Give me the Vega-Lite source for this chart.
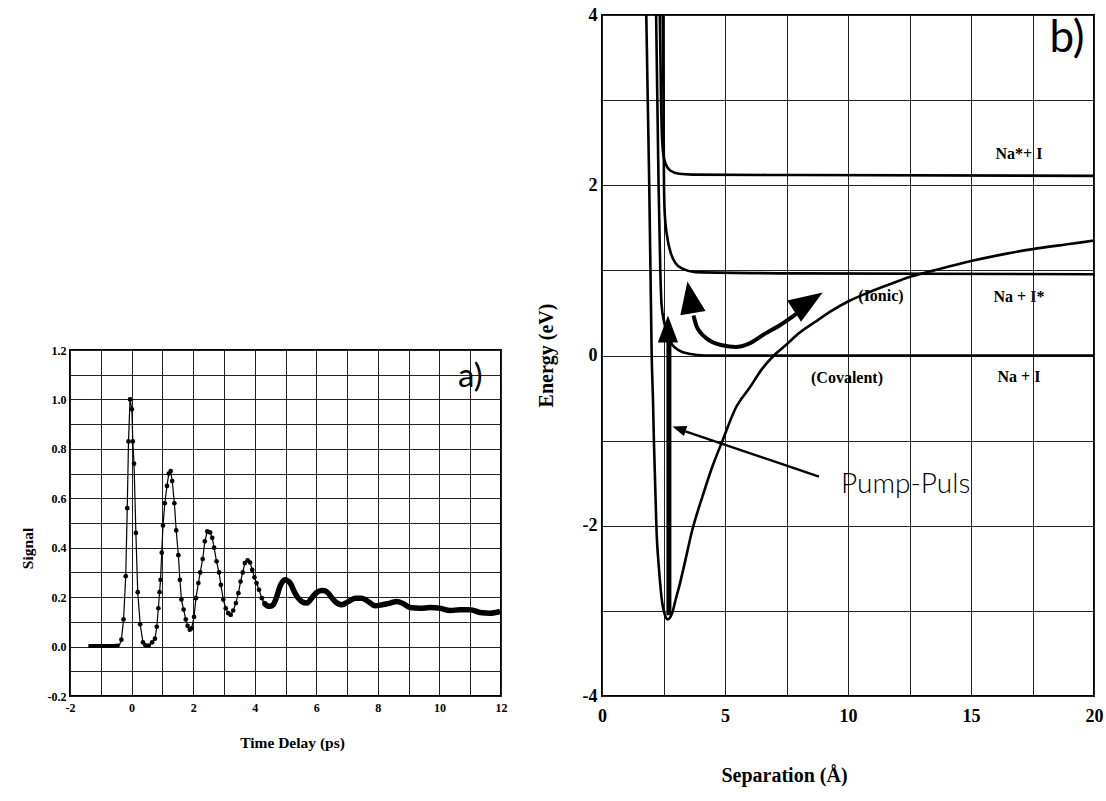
{
  "$schema": "https://vega.github.io/schema/vega-lite/v6.json",
  "background": "white",
  "padding": {"left": 19, "top": 5, "right": 3, "bottom": 5},
  "autosize": {"type": "pad"},
  "config": {
    "view": {"stroke": "black", "strokeWidth": 2},
    "axis": {
      "grid": true, "gridColor": "#222222", "gridWidth": 1, "gridOpacity": 1,
      "domain": false, "ticks": false, "labelFlush": false, "labelOverlap": false,
      "labelFont": "Liberation Serif", "labelFontWeight": "bold", "labelColor": "black",
      "titleFont": "Liberation Serif", "titleFontWeight": "bold", "titleColor": "black",
      "titleBaseline": "middle", "titleAlign": "center"
    },
    "line": {"color": "black"},
    "point": {"color": "black"},
    "rule": {"color": "black"},
    "text": {"color": "black"}
  },
  "datasets": {
    "signal": [
      {"t": -1.4, "s": 0.002}, {"t": -1.3, "s": 0.002}, {"t": -1.2, "s": 0.002}, {"t": -1.1, "s": 0.002},
      {"t": -1.0, "s": 0.002}, {"t": -0.9, "s": 0.002}, {"t": -0.8, "s": 0.002}, {"t": -0.7, "s": 0.002},
      {"t": -0.6, "s": 0.002}, {"t": -0.5, "s": 0.003}, {"t": -0.4, "s": 0.004},
      {"t": -0.33, "s": 0.028}, {"t": -0.26, "s": 0.11}, {"t": -0.19, "s": 0.285}, {"t": -0.14, "s": 0.56},
      {"t": -0.1, "s": 0.83}, {"t": -0.05, "s": 1.0}, {"t": 0.01, "s": 0.96}, {"t": 0.04, "s": 0.83},
      {"t": 0.08, "s": 0.74}, {"t": 0.14, "s": 0.46}, {"t": 0.2, "s": 0.22}, {"t": 0.28, "s": 0.09},
      {"t": 0.37, "s": 0.017}, {"t": 0.45, "s": 0.005}, {"t": 0.56, "s": 0.004}, {"t": 0.67, "s": 0.017},
      {"t": 0.76, "s": 0.032}, {"t": 0.82, "s": 0.08}, {"t": 0.87, "s": 0.155}, {"t": 0.91, "s": 0.22},
      {"t": 0.94, "s": 0.27}, {"t": 0.98, "s": 0.38}, {"t": 1.02, "s": 0.49}, {"t": 1.08, "s": 0.58},
      {"t": 1.15, "s": 0.65}, {"t": 1.21, "s": 0.7}, {"t": 1.27, "s": 0.71}, {"t": 1.32, "s": 0.67},
      {"t": 1.39, "s": 0.58}, {"t": 1.45, "s": 0.47}, {"t": 1.52, "s": 0.37}, {"t": 1.57, "s": 0.27},
      {"t": 1.62, "s": 0.19}, {"t": 1.69, "s": 0.15}, {"t": 1.76, "s": 0.11}, {"t": 1.82, "s": 0.084},
      {"t": 1.89, "s": 0.068}, {"t": 1.95, "s": 0.074}, {"t": 2.03, "s": 0.12}, {"t": 2.09, "s": 0.196},
      {"t": 2.17, "s": 0.257}, {"t": 2.23, "s": 0.3}, {"t": 2.31, "s": 0.354}, {"t": 2.38, "s": 0.426},
      {"t": 2.46, "s": 0.466}, {"t": 2.55, "s": 0.462}, {"t": 2.62, "s": 0.44}, {"t": 2.68, "s": 0.4},
      {"t": 2.76, "s": 0.345}, {"t": 2.84, "s": 0.3}, {"t": 2.9, "s": 0.25}, {"t": 2.98, "s": 0.19},
      {"t": 3.06, "s": 0.155}, {"t": 3.14, "s": 0.135}, {"t": 3.22, "s": 0.128}, {"t": 3.3, "s": 0.146},
      {"t": 3.39, "s": 0.176}, {"t": 3.47, "s": 0.216}, {"t": 3.54, "s": 0.263}, {"t": 3.61, "s": 0.3},
      {"t": 3.68, "s": 0.338}, {"t": 3.77, "s": 0.349}, {"t": 3.85, "s": 0.34}, {"t": 3.92, "s": 0.31},
      {"t": 3.99, "s": 0.28}, {"t": 4.06, "s": 0.257}, {"t": 4.14, "s": 0.23}, {"t": 4.23, "s": 0.196},
      {"t": 4.31, "s": 0.176}, {"t": 4.41, "s": 0.165}, {"t": 4.5, "s": 0.163}, {"t": 4.6, "s": 0.169},
      {"t": 4.71, "s": 0.2}, {"t": 4.82, "s": 0.243}, {"t": 4.9, "s": 0.262}, {"t": 4.98, "s": 0.27},
      {"t": 5.07, "s": 0.266}, {"t": 5.15, "s": 0.257}, {"t": 5.31, "s": 0.216}, {"t": 5.42, "s": 0.195},
      {"t": 5.53, "s": 0.182}, {"t": 5.69, "s": 0.176}, {"t": 5.85, "s": 0.196}, {"t": 6.01, "s": 0.219},
      {"t": 6.18, "s": 0.227}, {"t": 6.28, "s": 0.226}, {"t": 6.39, "s": 0.216}, {"t": 6.5, "s": 0.198},
      {"t": 6.61, "s": 0.182}, {"t": 6.83, "s": 0.169}, {"t": 7.04, "s": 0.182}, {"t": 7.26, "s": 0.196},
      {"t": 7.48, "s": 0.196}, {"t": 7.69, "s": 0.182}, {"t": 7.91, "s": 0.165}, {"t": 8.13, "s": 0.169},
      {"t": 8.4, "s": 0.176}, {"t": 8.61, "s": 0.182}, {"t": 8.83, "s": 0.173}, {"t": 9.05, "s": 0.158},
      {"t": 9.37, "s": 0.155}, {"t": 9.7, "s": 0.158}, {"t": 10.02, "s": 0.155}, {"t": 10.35, "s": 0.146},
      {"t": 10.67, "s": 0.149}, {"t": 11.0, "s": 0.149}, {"t": 11.32, "s": 0.138}, {"t": 11.65, "s": 0.135},
      {"t": 11.97, "s": 0.142}
    ],
    "ionic": [
      {"R": 1.8, "E": 4.0}, {"R": 1.86, "E": 3.0}, {"R": 1.92, "E": 2.0}, {"R": 1.97, "E": 1.0},
      {"R": 2.02, "E": 0.0}, {"R": 2.07, "E": -0.5}, {"R": 2.11, "E": -1.0}, {"R": 2.16, "E": -1.5},
      {"R": 2.21, "E": -2.0}, {"R": 2.32, "E": -2.52}, {"R": 2.45, "E": -2.91}, {"R": 2.56, "E": -3.05},
      {"R": 2.66, "E": -3.1}, {"R": 2.76, "E": -3.08}, {"R": 2.86, "E": -3.02}, {"R": 3.0, "E": -2.86},
      {"R": 3.15, "E": -2.7}, {"R": 3.33, "E": -2.48}, {"R": 3.67, "E": -2.05}, {"R": 4.08, "E": -1.66},
      {"R": 4.48, "E": -1.31}, {"R": 4.9, "E": -1.0}, {"R": 5.43, "E": -0.62}, {"R": 6.0, "E": -0.38},
      {"R": 6.5, "E": -0.16}, {"R": 7.06, "E": 0.02}, {"R": 7.5, "E": 0.13}, {"R": 8.0, "E": 0.26},
      {"R": 8.69, "E": 0.4}, {"R": 9.36, "E": 0.53}, {"R": 10.04, "E": 0.64}, {"R": 11.0, "E": 0.76},
      {"R": 12.0, "E": 0.87}, {"R": 12.6, "E": 0.93}, {"R": 13.5, "E": 1.0}, {"R": 15.0, "E": 1.11},
      {"R": 16.5, "E": 1.2}, {"R": 17.5, "E": 1.25}, {"R": 19.0, "E": 1.31}, {"R": 20.0, "E": 1.35}
    ],
    "covalent": [
      {"state": "Na*+I", "R": 2.35, "E": 4.0}, {"state": "Na*+I", "R": 2.4, "E": 3.0},
      {"state": "Na*+I", "R": 2.45, "E": 2.5}, {"state": "Na*+I", "R": 2.5, "E": 2.35},
      {"state": "Na*+I", "R": 2.59, "E": 2.25}, {"state": "Na*+I", "R": 2.79, "E": 2.17},
      {"state": "Na*+I", "R": 3.13, "E": 2.135}, {"state": "Na*+I", "R": 3.67, "E": 2.125},
      {"state": "Na*+I", "R": 8.0, "E": 2.12}, {"state": "Na*+I", "R": 20.0, "E": 2.11},
      {"state": "Na+I*", "R": 2.47, "E": 4.0}, {"state": "Na+I*", "R": 2.5, "E": 3.0},
      {"state": "Na+I*", "R": 2.52, "E": 2.0}, {"state": "Na+I*", "R": 2.55, "E": 1.67},
      {"state": "Na+I*", "R": 2.67, "E": 1.36}, {"state": "Na+I*", "R": 2.8, "E": 1.2},
      {"state": "Na+I*", "R": 3.0, "E": 1.08}, {"state": "Na+I*", "R": 3.27, "E": 1.02},
      {"state": "Na+I*", "R": 3.8, "E": 0.98}, {"state": "Na+I*", "R": 8.0, "E": 0.965},
      {"state": "Na+I*", "R": 20.0, "E": 0.955},
      {"state": "Na+I", "R": 2.2, "E": 4.0}, {"state": "Na+I", "R": 2.25, "E": 3.0},
      {"state": "Na+I", "R": 2.3, "E": 2.0}, {"state": "Na+I", "R": 2.37, "E": 1.0},
      {"state": "Na+I", "R": 2.42, "E": 0.6}, {"state": "Na+I", "R": 2.52, "E": 0.4},
      {"state": "Na+I", "R": 2.65, "E": 0.25}, {"state": "Na+I", "R": 2.85, "E": 0.13},
      {"state": "Na+I", "R": 3.13, "E": 0.06}, {"state": "Na+I", "R": 3.54, "E": 0.02},
      {"state": "Na+I", "R": 4.2, "E": 0.0}, {"state": "Na+I", "R": 20.0, "E": 0.0}
    ],
    "wavepacket": [
      {"R": 3.72, "E": 0.47}, {"R": 3.85, "E": 0.34}, {"R": 4.0, "E": 0.27}, {"R": 4.21, "E": 0.21},
      {"R": 4.5, "E": 0.155}, {"R": 4.89, "E": 0.12}, {"R": 5.43, "E": 0.1}, {"R": 5.98, "E": 0.14},
      {"R": 6.65, "E": 0.26}, {"R": 7.2, "E": 0.35}, {"R": 7.9, "E": 0.49}
    ],
    "labels": [
      {"R": 16.95, "E": 2.37, "txt": "Na*+ I"},
      {"R": 16.95, "E": 0.69, "txt": "Na + I*"},
      {"R": 16.95, "E": -0.25, "txt": "Na + I"},
      {"R": 11.34, "E": 0.7, "txt": "(Ionic)"},
      {"R": 9.96, "E": -0.26, "txt": "(Covalent)"}
    ]
  },
  "hconcat": [
    {
      "spacing": 10,
      "vconcat": [
        {
          "width": 431, "height": 318,
          "view": {"stroke": null},
          "data": {"values": [{"t": 0}]},
          "mark": {"type": "text", "text": " "}
        },
        {
          "width": 431, "height": 346,
          "encoding": {
            "x": {
              "field": "t", "type": "quantitative",
              "scale": {"domain": [-2, 12], "nice": false},
              "axis": {
                "title": "Time Delay (ps)", "titleFontSize": 15.5, "titleX": 222, "titleY": 46,
                "values": [-2, -1, 0, 1, 2, 3, 4, 5, 6, 7, 8, 9, 10, 11, 12],
                "labelExpr": "datum.value % 2 == 0 ? replace(format(datum.value, 'd'), '\u2212', '-') : ''",
                "labelFontSize": 12, "labelPadding": 6
              }
            },
            "y": {
              "field": "s", "type": "quantitative",
              "scale": {"domain": [-0.2, 1.2], "nice": false},
              "axis": {
                "title": "Signal", "titleFontSize": 15.5, "titleX": -43, "titleY": 198,
                "values": [-0.2, -0.1, 0, 0.1, 0.2, 0.3, 0.4, 0.5, 0.6, 0.7, 0.8, 0.9, 1.0, 1.1, 1.2],
                "labelExpr": "abs(round(datum.value * 10)) % 2 == 0 ? replace(format(datum.value, '.1f'), '\u2212', '-') : ''",
                "labelFontSize": 12, "labelPadding": 4
              }
            }
          },
          "layer": [
            {"data": {"name": "signal"}, "mark": {"type": "line", "strokeWidth": 1.2}},
            {"data": {"name": "signal"}, "transform": [{"filter": "datum.t <= -0.38"}], "mark": {"type": "line", "strokeWidth": 4}},
            {"data": {"name": "signal"}, "transform": [{"filter": "datum.t >= 4.3"}], "mark": {"type": "line", "strokeWidth": 5.5, "interpolate": "monotone"}},
            {"data": {"name": "signal"}, "transform": [{"filter": "datum.t > -0.4 && datum.t < 4.45"}], "mark": {"type": "point", "filled": true, "size": 22, "opacity": 1}},
            {
              "data": {"values": [{"t": 11.0, "s": 1.09}]},
              "mark": {"type": "text", "text": "a)", "font": "Lato", "fontWeight": 400, "fontSize": 33}
            }
          ]
        }
      ]
    },
    {
      "width": 492, "height": 681,
      "encoding": {
        "x": {
          "field": "R", "type": "quantitative",
          "scale": {"domain": [0, 20], "nice": false},
          "axis": {
            "title": "Separation  (Å)", "titleFontSize": 20, "titleX": 182, "titleY": 79,
            "values": [0, 2.5, 5, 7.5, 10, 12.5, 15, 17.5, 20],
            "labelExpr": "datum.value % 5 == 0 ? format(datum.value, 'd') : ''",
            "labelFontSize": 18, "labelPadding": 11
          }
        },
        "y": {
          "field": "E", "type": "quantitative",
          "scale": {"domain": [-4, 4], "nice": false},
          "axis": {
            "title": "Energy  (eV)", "titleFontSize": 20, "titleX": -56, "titleY": 340,
            "values": [-4, -3, -2, -1, 0, 1, 2, 3, 4],
            "labelExpr": "datum.value % 2 == 0 ? replace(format(datum.value, 'd'), '\u2212', '-') : ''",
            "labelFontSize": 18, "labelPadding": 5
          }
        }
      },
      "layer": [
        {"data": {"name": "ionic"}, "mark": {"type": "line", "strokeWidth": 2.6, "interpolate": "monotone"}},
        {
          "data": {"name": "covalent"},
          "mark": {"type": "line", "strokeWidth": 2.6, "interpolate": "monotone"},
          "encoding": {"detail": {"field": "state"}}
        },
        {"data": {"name": "wavepacket"}, "mark": {"type": "line", "strokeWidth": 4, "interpolate": "monotone"}},
        {
          "data": {"values": [{"R": 2.72, "E": -3.05, "E2": 0.18}]},
          "mark": {"type": "rule", "strokeWidth": 5},
          "encoding": {"y2": {"field": "E2"}}
        },
        {
          "data": {"values": [{"R": 2.68, "E": 0.31}]},
          "mark": {"type": "point", "shape": "M0,-1L0.75,1L-0.75,1Z", "filled": true, "opacity": 1, "size": 729, "angle": 0}
        },
        {
          "data": {"values": [{"R": 3.585, "E": 0.683}]},
          "mark": {"type": "point", "shape": "M0,-1L0.8,1L-0.8,1Z", "filled": true, "opacity": 1, "size": 1024, "angle": -10}
        },
        {
          "data": {"values": [{"R": 8.39, "E": 0.63}]},
          "mark": {"type": "point", "shape": "M0,-1L0.75,1L-0.75,1Z", "filled": true, "opacity": 1, "size": 1156, "angle": 57}
        },
        {
          "data": {"values": [{"R": 8.82, "E": -1.424, "R2": 3.39, "E2": -0.89}]},
          "mark": {"type": "rule", "strokeWidth": 2.4},
          "encoding": {"x2": {"field": "R2"}, "y2": {"field": "E2"}}
        },
        {
          "data": {"values": [{"R": 3.13, "E": -0.86}]},
          "mark": {"type": "point", "shape": "M0,-1L0.75,1L-0.75,1Z", "filled": true, "opacity": 1, "size": 196, "angle": -71}
        },
        {
          "data": {"name": "labels"},
          "mark": {"type": "text", "font": "Liberation Serif", "fontWeight": "bold", "fontSize": 16},
          "encoding": {"text": {"field": "txt"}}
        },
        {
          "data": {"values": [{"R": 9.72, "E": -1.52}]},
          "mark": {"type": "text", "text": "Pump-Puls", "font": "Lato", "fontWeight": 300, "fontSize": 28, "align": "left"}
        },
        {
          "data": {"values": [{"R": 18.9, "E": 3.72}]},
          "mark": {"type": "text", "text": "b)", "font": "Lato", "fontWeight": 400, "fontSize": 44}
        }
      ]
    }
  ],
  "spacing": 22
}
